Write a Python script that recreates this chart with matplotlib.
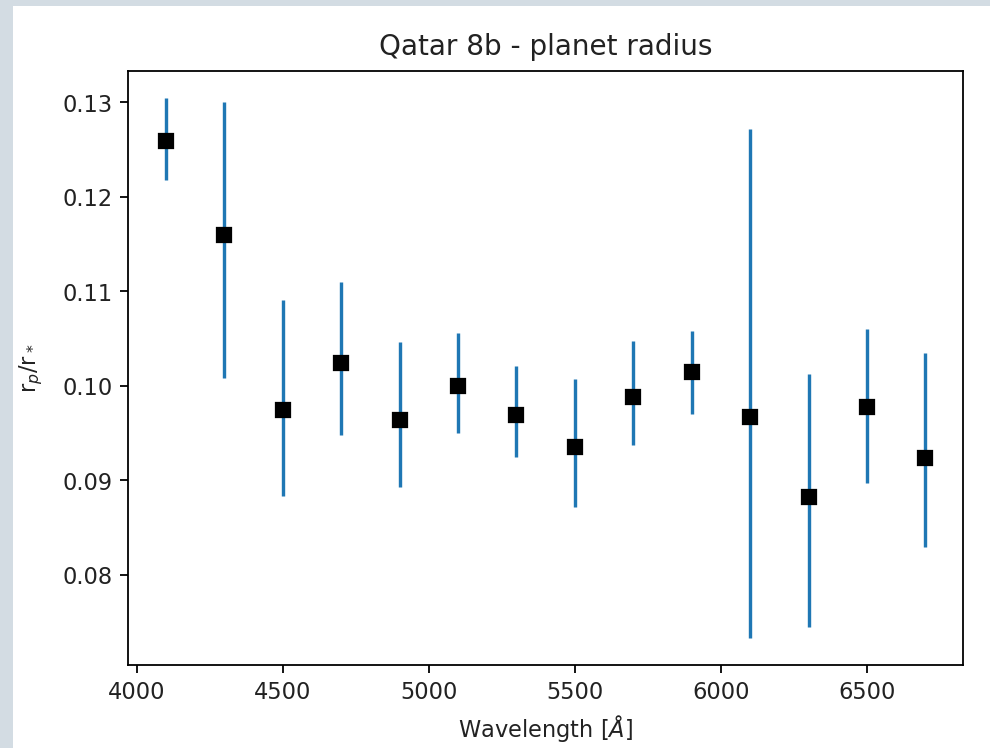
# Qatar 8b - planet radius vs wavelength

import matplotlib
matplotlib.use("Agg")
import matplotlib.pyplot as plt
import numpy as np

# ==========================================================
# DATA
# ==========================================================

wavelength = [4100, 4300, 4500, 4700, 4900, 5100, 5300,
              5500, 5700, 5900, 6100, 6300, 6500, 6700]

radius = [0.1259, 0.1160, 0.0974, 0.1024, 0.0964, 0.1000, 0.0969,
          0.0935, 0.0988, 0.1015, 0.0967, 0.0882, 0.0978, 0.0924]

err_low = [0.0041, 0.0152, 0.0091, 0.0076, 0.0071, 0.0050, 0.0044,
           0.0063, 0.0051, 0.0045, 0.0234, 0.0137, 0.0081, 0.0095]

err_high = [0.0046, 0.0140, 0.0117, 0.0086, 0.0082, 0.0056, 0.0052,
            0.0072, 0.0059, 0.0043, 0.0305, 0.0131, 0.0082, 0.0111]

# ==========================================================
# FIGURE
# ==========================================================

DPI = 162
W, H = 990, 748

fig = plt.figure(figsize=(W / DPI + 0.002, H / DPI + 0.002), dpi=DPI)
fig.patch.set_facecolor("#d3dce3")

# white canvas (screenshot border on left/top)
fig.add_artist(plt.Rectangle((13 / W, 0), 1 - 13 / W, 1 - 6 / H,
                             transform=fig.transFigure,
                             facecolor="white", edgecolor="none",
                             zorder=-10))

ax = fig.add_axes([128 / W, (H - 665) / H, (963 - 128) / W, (665 - 71) / H])

ax.errorbar(
    wavelength,
    radius,
    yerr=[err_low, err_high],
    fmt="s",
    color="black",
    ecolor="C0",
)

ax.set_title("Qatar 8b - planet radius", color="#222222", fontsize=12.4, pad=7)
ax.set_xlabel("Wavelength [$Å$]", color="#222222")
ax.set_ylabel("r$_p$/r$_*$", color="#222222", labelpad=7.5)
ax.tick_params(labelcolor="#222222")

fig.savefig("out.png", dpi=DPI)
